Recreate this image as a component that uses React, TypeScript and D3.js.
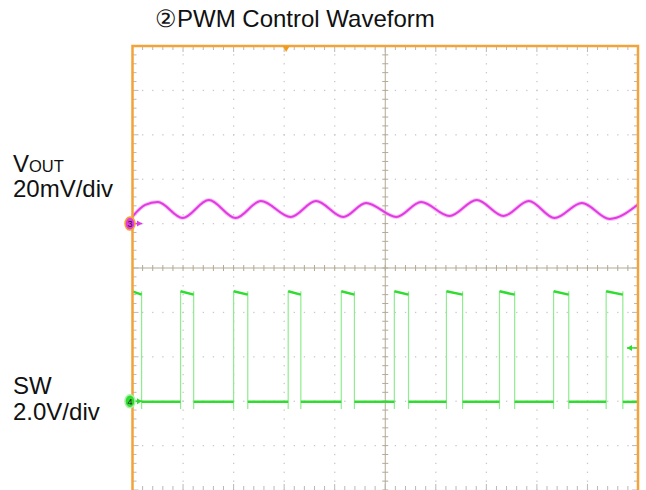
import React from "react";
import * as d3 from "d3";

// ---- data ----
const titleText = "②PWM Control Waveform";
const voutLabel = ["V", "OUT", "20mV/div"];
const swLabel = ["SW", "2.0V/div"];

// VOUT trace: time in divisions, value in mV relative to channel ground marker
const voutTimeDiv = [0.0, 0.25, 0.5, 0.99, 1.51, 2.04, 2.54, 3.13, 3.63, 4.17, 4.62, 5.22, 5.71, 6.27, 6.81, 7.34, 7.84, 8.35, 8.89, 9.44, 10.0];
const voutMv = [3.2, 8.4, 9.7, 2.5, 10.6, 2.5, 10.2, 3.0, 10.2, 3.0, 9.3, 3.0, 9.7, 3.4, 10.6, 3.4, 10.2, 2.5, 9.3, 2.1, 8.6];

// SW trace: edge times in divisions, levels in volts
const swRiseDiv = [0.95, 2.0, 3.08, 4.13, 5.18, 6.21, 7.26, 8.33, 9.37];
const swFallDiv = [0.18, 1.21, 2.28, 3.33, 4.39, 5.46, 6.53, 7.56, 8.63, 9.7];
const swHighStartV = 4.95;
const swHighEndV = 4.8;
const swLowV = -0.03;
const swEdgeBottomV = -0.35;

// channel settings
const voutPosDiv = 1.0;
const voutScaleMv = 20;
const swPosDiv = -3.0;
const swScaleV = 2.0;
const triggerTimeDiv = 3.04;
const triggerLevelDiv = -1.8;

const W = 646;
const H = 490;
const L = 132.5;
const R = 638;
const T = 46;
const B = 490;

export default function App() {
  const x = d3.scaleLinear().domain([0, 10]).range([L, R]);
  const y = d3.scaleLinear().domain([-5, 5]).range([B, T]);

  const minorX = d3.range(0, 50.001, 1).map((k) => k / 5);
  const minorY = d3.range(-25, 25.001, 1).map((k) => k / 5);

  // grid dots
  const dots: JSX.Element[] = [];
  for (let i = 1; i <= 9; i++) {
    if (i === 5) continue;
    minorY.forEach((v, j) =>
      dots.push(<rect key={`v${i}-${j}`} x={x(i) - 0.6} y={y(v) - 0.6} width={1.3} height={1.3} fill="#c8c8c8" />)
    );
  }
  for (let i = -4; i <= 4; i++) {
    if (i === 0) continue;
    minorX.forEach((v, j) =>
      dots.push(<rect key={`h${i}-${j}`} x={x(v) - 0.6} y={y(i) - 0.6} width={1.3} height={1.3} fill="#c8c8c8" />)
    );
  }

  const axisColor = "#b3a995";
  const ticks: JSX.Element[] = [];
  minorX.forEach((v, j) => {
    ticks.push(<line key={`ct${j}`} x1={x(v)} x2={x(v)} y1={y(0) - 3} y2={y(0) + 3} stroke={axisColor} strokeWidth={1} />);
    ticks.push(<line key={`tt${j}`} x1={x(v)} x2={x(v)} y1={T} y2={T + (j % 5 === 0 ? 6 : 4)} stroke="#b8b8b8" strokeWidth={1} />);
    ticks.push(<line key={`bt${j}`} x1={x(v)} x2={x(v)} y1={B} y2={B - (j % 5 === 0 ? 6 : 4)} stroke="#b8b8b8" strokeWidth={1} />);
  });
  minorY.forEach((v, j) => {
    ticks.push(<line key={`cv${j}`} x1={x(5) - 3} x2={x(5) + 3} y1={y(v)} y2={y(v)} stroke={axisColor} strokeWidth={1} />);
    ticks.push(<line key={`lt${j}`} x1={L} x2={L + (j % 5 === 0 ? 6 : 4)} y1={y(v)} y2={y(v)} stroke="#b8b8b8" strokeWidth={1} />);
    ticks.push(<line key={`rt${j}`} x1={R} x2={R - (j % 5 === 0 ? 6 : 4)} y1={y(v)} y2={y(v)} stroke="#b8b8b8" strokeWidth={1} />);
  });

  // VOUT path
  const voutPts: [number, number][] = voutTimeDiv.map((t, i) => [x(t), y(voutPosDiv + voutMv[i] / voutScaleMv)]);
  const voutPath = d3.line().curve(d3.curveMonotoneX)(voutPts) || "";

  // SW path segments
  const ySw = (v: number) => y(swPosDiv + v / swScaleV);
  const flats: { t0: number; t1: number; v0: number; v1: number }[] = [];
  const edges: number[] = [];
  flats.push({ t0: 0, t1: swFallDiv[0], v0: swHighStartV, v1: swHighEndV });
  for (let k = 0; k < swFallDiv.length; k++) {
    const f = swFallDiv[k];
    edges.push(f);
    const r = k < swRiseDiv.length ? swRiseDiv[k] : 10;
    flats.push({ t0: f, t1: r, v0: swLowV, v1: swLowV });
    if (k < swRiseDiv.length) {
      edges.push(r);
      const nf = k + 1 < swFallDiv.length ? swFallDiv[k + 1] : 10;
      flats.push({ t0: r, t1: nf, v0: swHighStartV, v1: swHighEndV });
    }
  }

  const magenta = "#e23ae2";
  const green = "#2fdc2f";
  const orange = "#f2a33a";
  const font = "'Liberation Sans', Arial, Helvetica, sans-serif";
  const fs = 24;

  const arrow = (x0: number, yy: number, len: number, color: string, dir: number) => (
    <g>
      <line x1={x0} x2={x0 + dir * len} y1={yy} y2={yy} stroke={color} strokeWidth={1.5} />
      <path d={`M${x0 + dir * len},${yy} L${x0 + dir * (len - 5)},${yy - 3} L${x0 + dir * (len - 5)},${yy + 3} Z`} fill={color} />
    </g>
  );

  return (
    <svg width={W} height={H} style={{ position: "absolute", left: 0, top: 0, background: "#fff" }} fontFamily={font}>
      <rect x={0} y={0} width={W} height={H} fill="#fff" />
      <text x={155} y={27} fontSize={fs} fill="#111">{titleText}</text>

      <text x={13} y={172} fontSize={fs} fill="#111">
        {voutLabel[0]}
        <tspan fontSize={16.5}>{voutLabel[1]}</tspan>
      </text>
      <text x={13} y={197} fontSize={fs} fill="#111">{voutLabel[2]}</text>
      <text x={13} y={394} fontSize={fs} fill="#111">{swLabel[0]}</text>
      <text x={13} y={420} fontSize={fs} fill="#111">{swLabel[1]}</text>

      {dots}
      <line x1={x(5)} x2={x(5)} y1={T} y2={B} stroke={axisColor} strokeWidth={1} />
      <line x1={L} x2={R} y1={y(0)} y2={y(0)} stroke={axisColor} strokeWidth={1} />
      {ticks}

      {/* VOUT trace */}
      <path d={voutPath} fill="none" stroke="#f2a8f2" strokeWidth={4} opacity={0.7} />
      <path d={voutPath} fill="none" stroke={magenta} strokeWidth={2} />

      {/* SW trace */}
      {edges.map((t, i) => (
        <line key={`e${i}`} x1={x(t)} x2={x(t)} y1={ySw(swHighStartV)} y2={ySw(swEdgeBottomV)} stroke="#8fec8f" strokeWidth={1.2} />
      ))}
      {flats.map((s, i) => (
        <line key={`f${i}`} x1={x(s.t0)} x2={x(s.t1)} y1={ySw(s.v0)} y2={ySw(s.v1)} stroke={green} strokeWidth={2.5} />
      ))}

      {/* frame */}
      <rect x={L} y={T} width={R - L} height={B + 2 - T} fill="none" stroke={orange} strokeWidth={2.5} />
      <path d={`M${x(triggerTimeDiv) - 3.5},${T} L${x(triggerTimeDiv) + 3.5},${T} L${x(triggerTimeDiv)},${T + 6} Z`} fill="#f29a1a" />

      {/* channel markers */}
      {arrow(134, y(voutPosDiv), 8, magenta, 1)}
      <ellipse cx={130} cy={y(voutPosDiv)} rx={5} ry={6.5} fill={magenta} stroke={orange} strokeWidth={1.5} />
      <text x={130} y={y(voutPosDiv) + 3.5} fontSize={9} textAnchor="middle" fill="#222">3</text>

      {arrow(134, y(swPosDiv), 8, green, 1)}
      <ellipse cx={130} cy={y(swPosDiv)} rx={5} ry={6.5} fill={green} stroke="#a8f0a8" strokeWidth={1.5} />
      <text x={130} y={y(swPosDiv) + 3.5} fontSize={9} textAnchor="middle" fill="#222">4</text>

      {arrow(R - 1, y(triggerLevelDiv), 10, green, -1)}
    </svg>
  );
}
